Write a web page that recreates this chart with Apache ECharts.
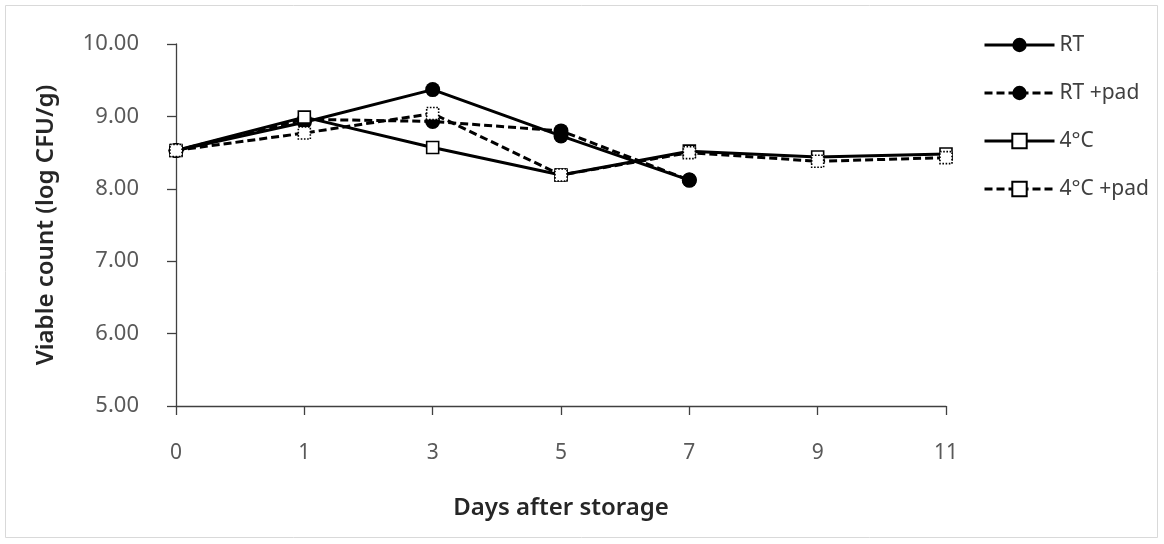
<!DOCTYPE html>
<html>
<head>
<meta charset="utf-8">
<script src="https://cdn.jsdelivr.net/npm/echarts@6/dist/echarts.min.js"></script>
<style>
  html, body { margin: 0; padding: 0; background: #ffffff; }
  #chart { width: 1164px; height: 544px; }
</style>
</head>
<body>
<div id="chart"></div>
<script>
// Storage days (category axis)
const days = ['0', '1', '3', '5', '7', '9', '11'];

// Viable count, log CFU/g
const rt      = [8.53, 8.92, 9.37, 8.73, 8.12, null, null];
const rtPad   = [8.53, 8.96, 8.93, 8.80, 8.12, null, null];
const cold    = [8.53, 8.99, 8.57, 8.19, 8.52, 8.44, 8.48];
const coldPad = [8.53, 8.77, 9.04, 8.19, 8.50, 8.38, 8.43];

const seriesNames = ['RT', 'RT +pad', '4°C', '4°C +pad'];

const FONT = '"Noto Sans", "Open Sans", sans-serif';
const LINE_W = 3;
const DASH = [8, 4];

const chart = echarts.init(document.getElementById('chart'), null, { renderer: 'canvas' });

function circleSeries(name, data, dashed) {
  return {
    name: name,
    type: 'line',
    data: data,
    symbol: 'circle',
    symbolSize: 15,
    connectNulls: false,
    lineStyle: { color: '#000', width: LINE_W, type: dashed ? DASH : 'solid' },
    itemStyle: { color: '#000', borderWidth: 0 },
    emphasis: { disabled: true },
    z: 2
  };
}

function squareSeries(name, data, dashed) {
  return {
    name: name,
    type: 'line',
    data: data,
    symbol: 'rect',
    symbolSize: 12,
    lineStyle: { color: '#000', width: LINE_W, type: dashed ? DASH : 'solid' },
    itemStyle: {
      color: '#ffffff',
      borderColor: '#000',
      borderWidth: 1.6,
      borderType: dashed ? [1.6, 1.6] : 'solid'
    },
    emphasis: { disabled: true },
    z: dashed ? 4 : 3
  };
}

chart.setOption({
  backgroundColor: '#ffffff',
  animation: false,
  graphic: [{
    type: 'rect',
    shape: { x: 5.5, y: 5.5, width: 1152, height: 532 },
    style: { fill: 'none', stroke: '#d9d9d9', lineWidth: 1 },
    silent: true,
    z: -10
  }],
  grid: { left: 176, right: 218, top: 44, bottom: 138 },
  legend: {
    orient: 'vertical',
    left: 978,
    top: 29,
    itemWidth: 70,
    itemHeight: 18,
    itemGap: 26,
    data: seriesNames,
    lineStyle: { width: 3 },
    textStyle: { fontFamily: FONT, fontSize: 21, color: '#404040', lineHeight: 22 }
  },
  xAxis: {
    type: 'category',
    data: days,
    boundaryGap: false,
    name: 'Days after storage',
    nameLocation: 'middle',
    nameGap: 90,
    nameTextStyle: { fontFamily: FONT, fontSize: 24, fontWeight: 600, color: '#262626' },
    axisLine: { lineStyle: { color: '#404040', width: 1.3 } },
    axisTick: { show: true, length: 9, alignWithLabel: true, lineStyle: { color: '#404040', width: 1.3 } },
    axisLabel: { margin: 37, fontFamily: FONT, fontSize: 21, color: '#595959' },
    splitLine: { show: false }
  },
  yAxis: {
    type: 'value',
    min: 5,
    max: 10,
    interval: 1,
    name: 'Viable count (log CFU/g)',
    nameLocation: 'middle',
    nameRotate: 90,
    nameGap: 118,
    nameTextStyle: { fontFamily: FONT, fontSize: 24, fontWeight: 600, color: '#262626' },
    axisLine: { show: true, lineStyle: { color: '#404040', width: 1.3 } },
    axisTick: { show: true, length: 9, lineStyle: { color: '#404040', width: 1.3 } },
    axisLabel: {
      margin: 37,
      fontFamily: FONT,
      fontSize: 22,
      color: '#595959',
      formatter: v => v.toFixed(2)
    },
    splitLine: { show: false }
  },
  series: [
    circleSeries(seriesNames[0], rt, false),
    circleSeries(seriesNames[1], rtPad, true),
    squareSeries(seriesNames[2], cold, false),
    squareSeries(seriesNames[3], coldPad, true)
  ]
});
</script>
</body>
</html>
